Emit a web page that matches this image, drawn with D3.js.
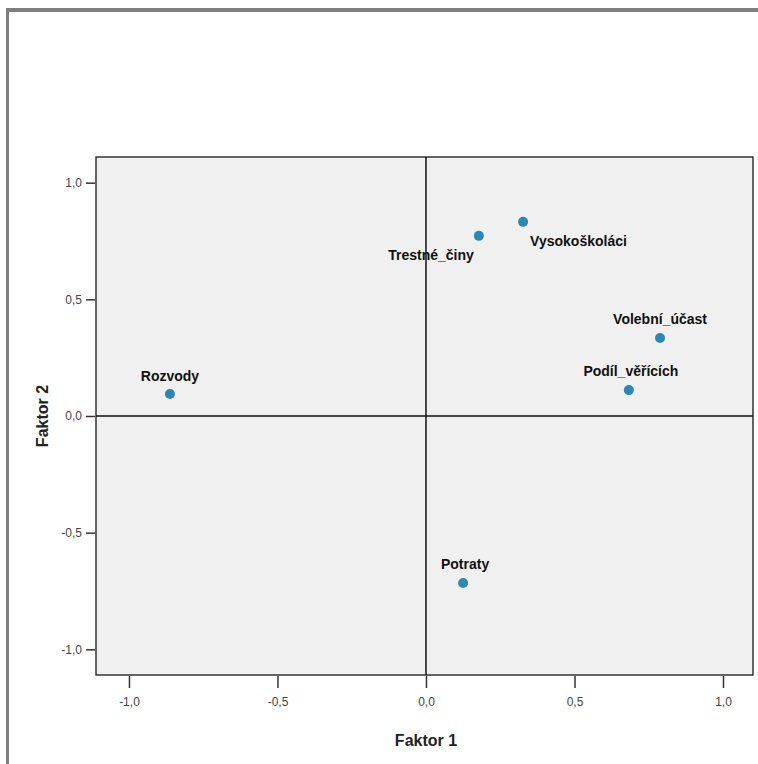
<!DOCTYPE html>
<html>
<head>
<meta charset="utf-8">
<script src="https://cdn.jsdelivr.net/npm/d3@7"></script>
<style>
  body { margin: 0; background: #fff; }
  svg { display: block; }
</style>
</head>
<body>
<svg></svg>
<script>
var svgWidth = 758, svgHeight = 764;

// factor loadings
var variables = ['Rozvody', 'Trestné_činy', 'Vysokoškoláci', 'Volební_účast', 'Podíl_věřících', 'Potraty'];
var faktor1 = [-0.862, 0.178, 0.327, 0.788, 0.683, 0.125];
var faktor2 = [0.094, 0.772, 0.832, 0.334, 0.111, -0.716];
var tickValues = [-1.0, -0.5, 0.0, 0.5, 1.0];

var data = variables.map(function(v, i){
    return { name: v, f1: faktor1[i], f2: faktor2[i] };
});

// label placement relative to the point
var labelPos = {
    'Rozvody':        { dx: 0,   dy: -13, anchor: 'middle' },
    'Trestné_činy':   { dx: -5,  dy: 24,  anchor: 'end' },
    'Vysokoškoláci':  { dx: 7,   dy: 24,  anchor: 'start' },
    'Volební_účast':  { dx: 0,   dy: -14, anchor: 'middle' },
    'Podíl_věřících': { dx: 2,   dy: -14, anchor: 'middle' },
    'Potraty':        { dx: 2,   dy: -14, anchor: 'middle' }
};

var plot = { left: 96, top: 157, right: 753, bottom: 675 };

var x = d3.scaleLinear()
    .domain([-1.111, 1.101])
    .range([plot.left, plot.right]);

var y = d3.scaleLinear()
    .domain([-1.11, 1.11])
    .range([plot.bottom, plot.top]);

var svg = d3.select('svg')
    .attr('width', svgWidth)
    .attr('height', svgHeight);

// outer frame
svg.append('line')
    .attr('x1', 6).attr('x2', svgWidth)
    .attr('y1', 10).attr('y2', 10)
    .attr('stroke', '#7f7f7f').attr('stroke-width', 4);
svg.append('line')
    .attr('x1', 7.5).attr('x2', 7.5)
    .attr('y1', 8).attr('y2', svgHeight)
    .attr('stroke', '#7f7f7f').attr('stroke-width', 3);

svg.append('rect')
    .attr('x', plot.left)
    .attr('y', plot.top)
    .attr('width', plot.right - plot.left)
    .attr('height', plot.bottom - plot.top)
    .attr('fill', '#f0f0f0')
    .attr('stroke', '#333')
    .attr('stroke-width', 1.5);

var fmt = function(d){ return d3.format('.1f')(d).replace('.', ',').replace('−', '-'); };

var xAxis = d3.axisBottom(x)
    .tickValues(tickValues)
    .tickSize(12)
    .tickPadding(9)
    .tickFormat(fmt);

var yAxis = d3.axisLeft(y)
    .tickValues(tickValues)
    .tickSize(9)
    .tickPadding(4)
    .tickFormat(fmt);

var gx = svg.append('g')
    .attr('class', 'x axis')
    .attr('transform', 'translate(0,' + (plot.bottom + 1) + ')')
    .call(xAxis);

var gy = svg.append('g')
    .attr('class', 'y axis')
    .attr('transform', 'translate(' + (plot.left - 1) + ',0)')
    .call(yAxis);

[gx, gy].forEach(function(g){
    g.select('.domain').remove();
    g.selectAll('line').attr('stroke', '#333').attr('stroke-width', 1.5);
    g.selectAll('text')
        .attr('fill', '#444')
        .style('font-family', 'Liberation Sans, Arial, sans-serif')
        .style('font-size', '12px');
});

// reference lines at zero
svg.append('line')
    .attr('x1', plot.left).attr('x2', plot.right)
    .attr('y1', y(0)).attr('y2', y(0))
    .attr('stroke', '#111').attr('stroke-width', 1.5);
svg.append('line')
    .attr('x1', x(0)).attr('x2', x(0))
    .attr('y1', plot.top).attr('y2', plot.bottom)
    .attr('stroke', '#111').attr('stroke-width', 1.5);

svg.selectAll('circle')
    .data(data)
    .enter()
    .append('circle')
    .attr('r', 5)
    .attr('fill', '#2b88b3')
    .attr('cx', function(d){ return x(d.f1); })
    .attr('cy', function(d){ return y(d.f2); });

svg.selectAll('text.lbl')
    .data(data)
    .enter()
    .append('text')
    .attr('class', 'lbl')
    .attr('x', function(d){ return x(d.f1) + labelPos[d.name].dx; })
    .attr('y', function(d){ return y(d.f2) + labelPos[d.name].dy; })
    .attr('text-anchor', function(d){ return labelPos[d.name].anchor; })
    .style('font-family', 'Liberation Sans, Arial, sans-serif')
    .style('font-weight', 'bold')
    .style('font-size', '14px')
    .attr('fill', '#111')
    .text(function(d){ return d.name; });

svg.append('text')
    .attr('x', x(0))
    .attr('y', 746)
    .attr('text-anchor', 'middle')
    .style('font-family', 'Liberation Sans, Arial, sans-serif')
    .style('font-weight', 'bold')
    .style('font-size', '16px')
    .attr('fill', '#222')
    .text('Faktor 1');

svg.append('text')
    .attr('transform', 'translate(48,' + y(0) + ') rotate(-90)')
    .attr('text-anchor', 'middle')
    .style('font-family', 'Liberation Sans, Arial, sans-serif')
    .style('font-weight', 'bold')
    .style('font-size', '16px')
    .attr('fill', '#222')
    .text('Faktor 2');
</script>
</body>
</html>
